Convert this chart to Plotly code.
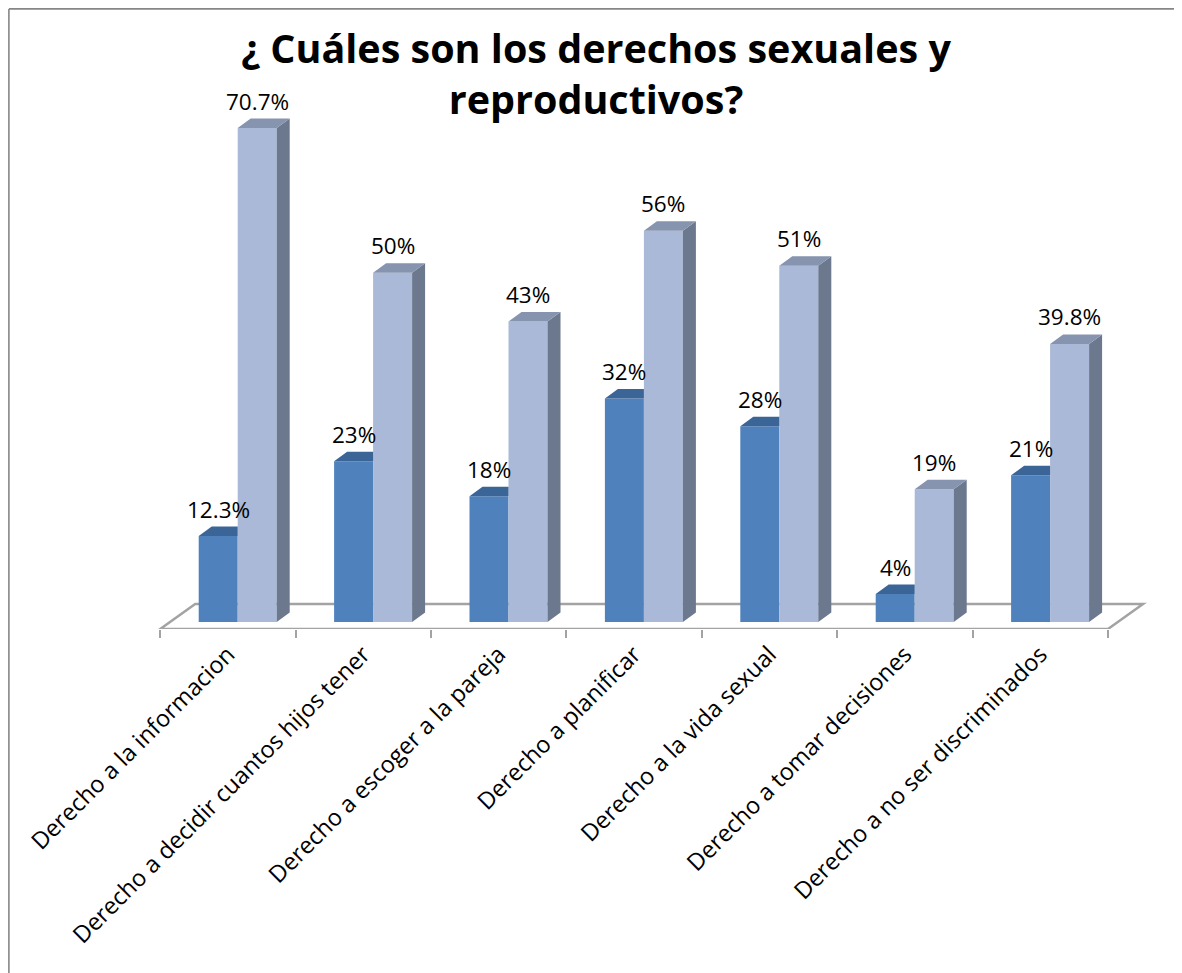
import plotly.graph_objects as go

# ---------------- data ----------------
categories = [
    "Derecho a la informacion",
    "Derecho a decidir cuantos hijos tener",
    "Derecho a escoger a la pareja",
    "Derecho a planificar",
    "Derecho a la vida sexual",
    "Derecho a tomar decisiones",
    "Derecho a no ser discriminados",
]
serie_1 = [12.3, 23, 18, 32, 28, 4, 21]
serie_2 = [70.7, 50, 43, 56, 51, 19, 39.8]
labels_1 = ["12.3%", "23%", "18%", "32%", "28%", "4%", "21%"]
labels_2 = ["70.7%", "50%", "43%", "56%", "51%", "19%", "39.8%"]

title_text = "¿ Cuáles son los derechos sexuales y<br>reproductivos?"

# ---------------- layout geometry (screen pixels) ----------------
SCR_W, SCR_H = 1182, 973
OFF = 8                       # default page body margin
W, H = SCR_W - OFF, SCR_H - OFF
PLOT_L, PLOT_R, PLOT_T, PLOT_B = 150, 1160, 100, 629   # screen px
ML, MR = PLOT_L - OFF, (SCR_W - PLOT_R)
MT, MB = PLOT_T - OFF, (SCR_H - PLOT_B)
plot_w = PLOT_R - PLOT_L
plot_h = PLOT_B - PLOT_T

CAT_PX = 135.4        # pixels per category
PX_PER_UNIT = 6.987   # pixels per percent
X0_PX = 237.7         # bar-plane centre of first category
Y0_PX = 622           # bar base
SLOPE = 1.4           # floor depth: px right per px up
FLOOR_BACK_PX = 604

x_range = [(PLOT_L - X0_PX) / CAT_PX, (PLOT_R - X0_PX) / CAT_PX]
y_range = [-(PLOT_B - Y0_PX) / PX_PER_UNIT, (Y0_PX - PLOT_T) / PX_PER_UNIT]

front_shift_px = (PLOT_B - Y0_PX) * SLOPE
x2_center0 = X0_PX - front_shift_px
x2_range = [(PLOT_L - x2_center0) / CAT_PX, (PLOT_R - x2_center0) / CAT_PX]

BW = 39 / CAT_PX       # bar width in category units
DX = 13 / CAT_PX       # depth offset x
DY = 9.5 / PX_PER_UNIT # depth offset y

n = len(categories)
idx = list(range(n))

C_DARK = "#4F81BD"
C_DARK_TOP = "#3B6597"
C_LIGHT = "#AAB9D7"
C_LIGHT_SIDE = "#6B788E"
C_LIGHT_TOP = "#8794AF"
C_FLOOR = "#A3A3A3"
C_BORDER = "#868686"

fig = go.Figure()

fig.add_trace(go.Bar(x=idx, y=serie_1, offset=-BW, width=BW,
                     marker=dict(color=C_DARK, line=dict(width=0)),
                     showlegend=False, hoverinfo="skip"))
fig.add_trace(go.Bar(x=idx, y=serie_2, offset=0, width=BW,
                     marker=dict(color=C_LIGHT, line=dict(width=0)),
                     showlegend=False, hoverinfo="skip"))

# top faces of dark bars (visible part, left of light bar)
tx, ty = [], []
for i, v in zip(idx, serie_1):
    tx += [i - BW, i, i, i - BW + DX, i - BW, None]
    ty += [v, v, v + DY, v + DY, v, None]
fig.add_trace(go.Scatter(x=tx, y=ty, mode="lines", fill="toself",
                         fillcolor=C_DARK_TOP, line=dict(width=0),
                         showlegend=False, hoverinfo="skip"))

# side faces of light bars
sx, sy = [], []
for i, v in zip(idx, serie_2):
    r = i + BW
    sx += [r, r, r + DX, r + DX, r, None]
    sy += [0, v, v + DY, DY, 0, None]
fig.add_trace(go.Scatter(x=sx, y=sy, mode="lines", fill="toself",
                         fillcolor=C_LIGHT_SIDE, line=dict(width=0),
                         showlegend=False, hoverinfo="skip"))

# top faces of light bars
ux, uy = [], []
for i, v in zip(idx, serie_2):
    ux += [i, i + BW, i + BW + DX, i + DX, i, None]
    uy += [v, v, v + DY, v + DY, v, None]
fig.add_trace(go.Scatter(x=ux, y=uy, mode="lines", fill="toself",
                         fillcolor=C_LIGHT_TOP, line=dict(width=0),
                         showlegend=False, hoverinfo="skip"))

# invisible trace for category axis (labels on floor front edge)
fig.add_trace(go.Scatter(x=categories, y=[0] * n, xaxis="x2", yaxis="y",
                         mode="markers", marker=dict(opacity=0),
                         showlegend=False, hoverinfo="skip"))

# data labels
ann = []
lab_font = dict(family="Open Sans", size=22.5, color="#000000")
for i, v, t in zip(idx, serie_1, labels_1):
    ann.append(dict(x=i - BW / 2, y=v, xref="x", yref="y", text=t,
                    showarrow=False, yshift=27, yanchor="middle",
                    xanchor="center", font=lab_font))
for i, v, t in zip(idx, serie_2, labels_2):
    ann.append(dict(x=i + BW / 2, y=v, xref="x", yref="y", text=t,
                    showarrow=False, yshift=27, yanchor="middle",
                    xanchor="center", font=lab_font))

# floor (3D base)
y_front = y_range[0]
y_back = (Y0_PX - FLOOR_BACK_PX) / PX_PER_UNIT
xf_l = -0.5 - front_shift_px / CAT_PX
xf_r = n - 0.5 - front_shift_px / CAT_PX
back_shift = (Y0_PX - FLOOR_BACK_PX) * SLOPE / CAT_PX
xb_l = -0.5 + back_shift
xb_r = n - 0.5 + back_shift
floor_path = (f"M {xf_l},{y_front} L {xb_l},{y_back} L {xb_r},{y_back} "
              f"L {xf_r},{y_front} Z")

def px_to_paper_x(px):
    return (px - PLOT_L) / plot_w

def py_to_paper_y(py):
    return (PLOT_B - py) / plot_h

BORDER_PX = OFF + 0.9   # chart-area frame, top and left edges visible
shapes = [
    dict(type="path", path=floor_path, xref="x", yref="y",
         line=dict(color=C_FLOOR, width=2.5), layer="below"),
    dict(type="line", xref="paper", yref="paper",
         x0=px_to_paper_x(BORDER_PX), x1=px_to_paper_x(SCR_W + 20),
         y0=py_to_paper_y(BORDER_PX), y1=py_to_paper_y(BORDER_PX),
         line=dict(color=C_BORDER, width=1.6)),
    dict(type="line", xref="paper", yref="paper",
         x0=px_to_paper_x(BORDER_PX), x1=px_to_paper_x(BORDER_PX),
         y0=py_to_paper_y(BORDER_PX), y1=py_to_paper_y(SCR_H + 20),
         line=dict(color=C_BORDER, width=1.6)),
]

fig.update_layout(
    width=W, height=H,
    margin=dict(l=ML, r=MR, t=MT, b=MB, autoexpand=False),
    paper_bgcolor="white", plot_bgcolor="rgba(0,0,0,0)",
    barmode="overlay",
    title=dict(text=title_text, x=(591 - OFF + 5) / W, xref="container",
               xanchor="center",
               y=1 - (63 - OFF) / H, yref="container", yanchor="middle",
               font=dict(family="Open Sans", size=39.5, color="#000000",
                         weight="bold")),
    xaxis=dict(range=x_range, visible=False, fixedrange=True),
    xaxis2=dict(type="category", overlaying="x", anchor="y", side="bottom",
                range=x2_range, tickson="boundaries", ticks="outside",
                ticklen=8, tickwidth=2, tickcolor=C_FLOOR, showline=False,
                showgrid=False, zeroline=False, tickangle=-45,
                automargin=False, ticklabelstandoff=6,
                tickfont=dict(family="Open Sans", size=23.5, color="#000000")),
    yaxis=dict(range=y_range, visible=False, fixedrange=True),
    annotations=ann,
    shapes=shapes,
    showlegend=False,
)

fig.write_html("out.html")
